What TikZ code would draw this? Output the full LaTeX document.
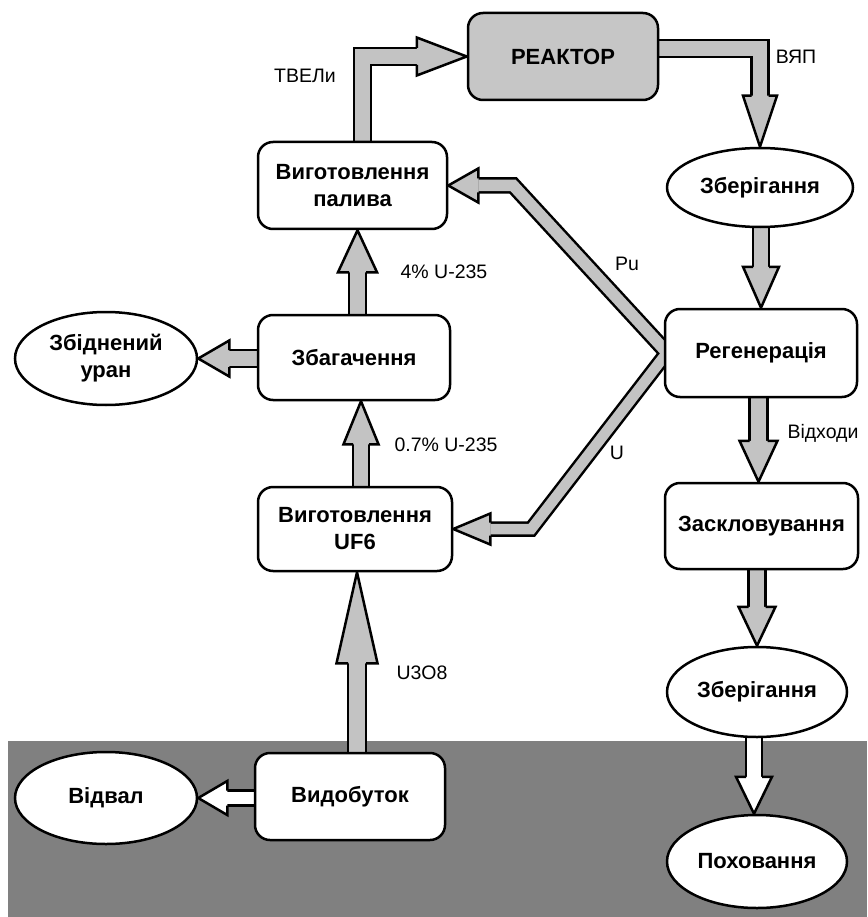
\documentclass[tikz,border=0pt]{standalone}
\usepackage{fontspec}
\setmainfont{Liberation Sans}
\usetikzlibrary{calc,shapes.geometric}
\pgfdeclarelayer{bg}
\pgfdeclarelayer{arr}
\pgfsetlayers{bg,arr,main}
\definecolor{ag}{HTML}{C3C3C3}
\definecolor{rg}{HTML}{C6C6C6}
\definecolor{ground}{HTML}{808080}
\newcommand\bshaft[3]{%
  \draw[line width=#1pt+2.5pt] #3;
  \draw[line width=#1pt-2.5pt, draw=#2] #3;}
\newcommand\bhead[6]{%
  \filldraw[line width=2.5pt, fill=#6, shift={(#1)}, rotate=#2]
    (-#3,#5/2) -- (-#3,#4) -- (0,0) -- (-#3,-#4) -- (-#3,-#5/2);}
\tikzset{
  every node/.style={inner sep=0pt},
  rbox/.style={draw, line width=2.5pt, rounded corners=15pt, fill=white,
    font=\fontsize{22}{27}\selectfont\bfseries, align=center},
  ebox/.style={draw, line width=2.5pt, ellipse, fill=white,
    font=\fontsize{22}{27}\selectfont\bfseries, align=center},
  lab/.style={font=\fontsize{19.5}{22}\selectfont},
}
\begin{document}
\begin{tikzpicture}[x=1pt,y=-1pt]
\useasboundingbox (0,0) rectangle (867,917);
\begin{pgfonlayer}{bg}
  \fill[white] (0,0) rectangle (867,917);
  \fill[ground] (8,741) rectangle (867,917);
\end{pgfonlayer}

% nodes
\node[rbox, fill=rg, minimum width=190pt, minimum height=87pt] (reactor) at (563,56.5) {РЕАКТОР};
\node[rbox, minimum width=189pt, minimum height=87pt] (fuel) at (352.5,185.5) {Виготовлення\\палива};
\node[rbox, minimum width=192pt, minimum height=85pt] (enrich) at (354,357.5) {Збагачення};
\node[ebox, minimum width=182pt, minimum height=93pt] (depl) at (106,358.5) {Збіднений\\уран};
\node[rbox, minimum width=194pt, minimum height=84pt] (uf6) at (355,529) {Виготовлення\\UF6};
\node[rbox, minimum width=190pt, minimum height=87pt] (mine) at (350,796.5) {Видобуток};
\node[ebox, minimum width=182pt, minimum height=92pt] (dump) at (106,798) {Відвал};
\node[ebox, minimum width=186pt, minimum height=79pt] (store1) at (760,187.5) {Зберігання};
\node[rbox, minimum width=192pt, minimum height=88pt] (reg) at (761,353) {Регенерація};
\node[rbox, minimum width=193pt, minimum height=86pt] (vitr) at (761.5,526) {Заскловування};
\node[ebox, minimum width=180pt, minimum height=90pt] (store2) at (757,692) {Зберігання};
\node[ebox, minimum width=180pt, minimum height=93pt] (bur) at (757,861.5) {Поховання};

% labels
\node[lab] (ltvel) at (305,76) {ТВЕЛи};
\node[lab] (lvyap) at (796,57) {ВЯП};
\node[lab] (lpu) at (627,264) {Pu};
\node[lab] (lu) at (617,453) {U};
\node[lab] (l4) at (444,272) {4\% U-235};
\node[lab] (l07) at (446,445) {0.7\% U-235};
\node[lab] (lu3o8) at (422,673) {U3O8};
\node[lab] (lvid) at (823,433) {Відходи};

% helper coordinates
\coordinate (t4) at ([xshift=-3pt]vitr.north);
\coordinate (t6) at ([xshift=-3pt]bur.north);
\coordinate (t7) at ([xshift=5pt]fuel.south);
\coordinate (t8) at ([xshift=7pt]enrich.south);
\coordinate (t9) at ([xshift=2pt]uf6.south);
\coordinate (pu0) at ([yshift=4pt]reg.west);
\coordinate (pub) at ($(fuel.east)+(65,0)$);
\coordinate (u0) at ([yshift=-4pt]reg.west);
\coordinate (ub) at ($(uf6.east)+(78,0)$);

\begin{pgfonlayer}{arr}
  % TVEL
  \bshaft{17}{ag}{([xshift=10pt]fuel.center) |- ($(reactor.west)+(-50,0)$)}
  \bhead{reactor.west}{0}{50}{19}{17}{ag}
  % VYaP
  \bshaft{17}{ag}{([yshift=8pt]reactor.center) -| ($(store1.north)+(0,-51)$)}
  \bhead{store1.north}{-90}{51}{17}{17}{ag}
  % store1 -> reg
  \bshaft{16}{ag}{(reg.north |- store1.center) -- ($(reg.north)+(0,-41)$)}
  \bhead{reg.north}{-90}{41}{18}{16}{ag}
  % reg -> vitr
  \bshaft{18}{ag}{(t4 |- reg.center) -- ($(t4)+(0,-41)$)}
  \bhead{t4}{-90}{41}{19}{18}{ag}
  % vitr -> store2
  \bshaft{17}{ag}{(store2.north |- vitr.center) -- ($(store2.north)+(0,-39)$)}
  \bhead{store2.north}{-90}{39}{18.5}{17}{ag}
  % store2 -> burial
  \bshaft{16}{white}{(t6 |- store2.center) -- ($(t6)+(0,-37)$)}
  \bhead{t6}{-90}{37}{18}{16}{white}
  % enrich -> fuel
  \bshaft{17}{ag}{(t7 |- enrich.center) -- ($(t7)+(0,42)$)}
  \bhead{t7}{90}{42}{19.5}{17}{ag}
  % uf6 -> enrich
  \bshaft{16}{ag}{(t8 |- uf6.center) -- ($(t8)+(0,43)$)}
  \bhead{t8}{90}{43}{17.5}{16}{ag}
  % mine -> uf6
  \bshaft{18}{ag}{(t9 |- mine.center) -- ($(t9)+(0,91)$)}
  \bhead{t9}{90}{91}{20.5}{18}{ag}
  % enrich -> depleted
  \bshaft{17}{ag}{(depl.east -| enrich.center) -- ($(depl.east)+(31,0)$)}
  \bhead{depl.east}{180}{31}{18}{17}{ag}
  % mine -> dump
  \bshaft{15}{white}{(dump.east -| mine.center) -- ($(dump.east)+(29,0)$)}
  \bhead{dump.east}{180}{29}{17}{15}{white}
  % Pu and U
  \draw[line width=16.5pt] ($(pu0)!-15pt!(pub)$) -- (pub) -- ($(fuel.east)+(30,0)$);
  \draw[line width=15.5pt] ($(u0)!-15pt!(ub)$) -- (ub) -- ($(uf6.east)+(37,0)$);
  \draw[line width=11.5pt, draw=ag] ($(pu0)!-15pt!(pub)$) -- (pub) -- ($(fuel.east)+(30,0)$);
  \draw[line width=10.5pt, draw=ag] ($(u0)!-15pt!(ub)$) -- (ub) -- ($(uf6.east)+(37,0)$);
  \bhead{fuel.east}{180}{30}{17}{14}{ag}
  \bhead{uf6.east}{180}{37}{15.5}{13}{ag}
\end{pgfonlayer}
\end{tikzpicture}
\end{document}
